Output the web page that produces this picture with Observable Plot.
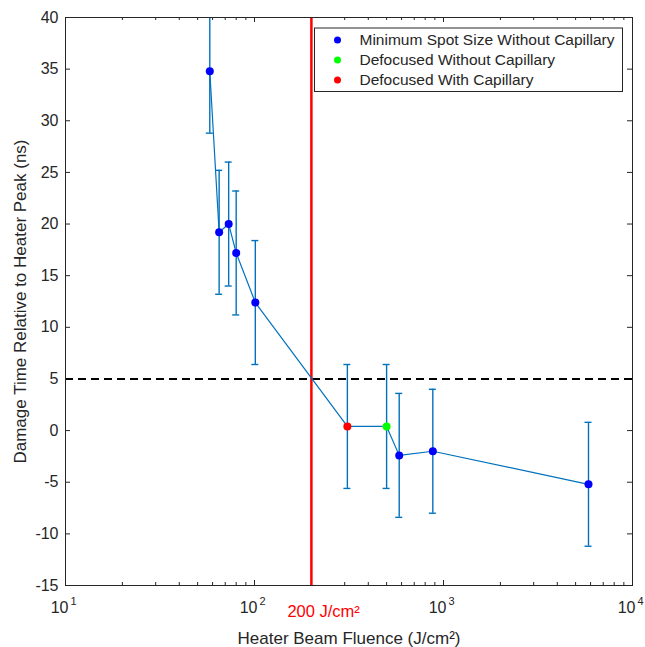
<!DOCTYPE html>
<html>
<head>
<meta charset="utf-8">
<script src="https://cdn.jsdelivr.net/npm/d3@7"></script>
<script src="https://cdn.jsdelivr.net/npm/@observablehq/plot@0.6"></script>
<style>
  html, body { margin: 0; padding: 0; background: #ffffff; }
  #chart svg { display: block; }
</style>
</head>
<body>
<div id="chart"></div>
<script>
// ---- data ----
const fluence    = [58, 65, 73, 80, 101, 310, 500, 583, 878, 5850];
const damageTime = [34.8, 19.2, 20.0, 17.2, 12.4, 0.4, 0.4, -2.4, -2.0, -5.2];
const errorSize  = [6, 6, 6, 6, 6, 6, 6, 6, 6, 6];
const seriesNames = [
  "Minimum Spot Size Without Capillary",
  "Defocused Without Capillary",
  "Defocused With Capillary"
];
const seriesColors = ["#0000ff", "#00ff00", "#ff0000"];
const pointSeries = [0, 0, 0, 0, 0, 2, 1, 0, 0, 0];
const thresholdTime = 5;
const thresholdFluence = 200;
const thresholdLabel = "200 J/cm\u00b2";
const xMajorTicks = [10, 100, 1000, 10000];
const xMinorTicks = [20,30,40,50,60,70,80,90,200,300,400,500,600,700,800,900,2000,3000,4000,5000,6000,7000,8000,9000];
const yTicks = [-15, -10, -5, 0, 5, 10, 15, 20, 25, 30, 35, 40];
const xLabel = "Heater Beam Fluence (J/cm\u00b2)";
const yLabel = "Damage Time Relative to Heater Peak (ns)";

const rows = fluence.map((f, i) => ({
  x: f, y: damageTime[i], lo: damageTime[i] - errorSize[i], hi: damageTime[i] + errorSize[i],
  series: seriesNames[pointSeries[i]]
}));

const W = 645, H = 647, mL = 65, mR = 13, mT = 17, mB = 62;
const pw = W - mL - mR, ph = H - mT - mB;
const ink = "#262626";
const lineBlue = "#0072BD";

const legendMarks = seriesNames.flatMap((name, i) => [
  Plot.dot([name], {frameAnchor: "top-left", dx: 272, dy: 22.5 + 20 * i, r: 3.5, fill: seriesColors[i], stroke: "none"}),
  Plot.text([name], {frameAnchor: "top-left", dx: 294, dy: 22.5 + 20 * i, text: d => d, textAnchor: "start", lineAnchor: "middle", fontSize: 15.5, fill: ink})
]);

const chart = Plot.plot({
  width: W, height: H,
  marginLeft: mL, marginRight: mR, marginTop: mT, marginBottom: mB,
  style: {fontFamily: "'Liberation Sans', Arial, Helvetica, sans-serif", background: "#ffffff", color: ink},
  x: {type: "log", domain: [10, 10000], axis: null},
  y: {domain: [-15, 40], axis: null},
  color: {domain: seriesNames, range: seriesColors},
  marks: [
    // y tick labels
    Plot.axisY({ticks: yTicks, tickSize: 0, tickPadding: 7, fontSize: 16, label: null, tickFormat: d => String(d)}),
    // inward ticks, left & right
    Plot.ruleY(yTicks, {y: d => d, insetRight: pw - 5, stroke: ink}),
    Plot.ruleY(yTicks, {y: d => d, insetLeft: pw - 5, stroke: ink}),
    // inward ticks, bottom & top
    Plot.ruleX(xMajorTicks, {x: d => d, insetTop: ph - 5, stroke: ink}),
    Plot.ruleX(xMajorTicks, {x: d => d, insetBottom: ph - 5, stroke: ink}),
    Plot.ruleX(xMinorTicks, {x: d => d, insetTop: ph - 3, stroke: ink}),
    Plot.ruleX(xMinorTicks, {x: d => d, insetBottom: ph - 3, stroke: ink}),
    // x tick labels 10^n
    Plot.text(xMajorTicks, {x: d => d, frameAnchor: "bottom", text: d => "10", textAnchor: "end", lineAnchor: "bottom", dx: 3, dy: 27, fontSize: 16, fill: ink}),
    Plot.text(xMajorTicks, {x: d => d, frameAnchor: "bottom", text: d => String(Math.round(Math.log10(d))), textAnchor: "start", lineAnchor: "bottom", dx: 5, dy: 19, fontSize: 11, fill: ink}),
    // threshold lines
    Plot.ruleY([thresholdTime], {y: d => d, stroke: "#000000", strokeWidth: 2, strokeDasharray: "8,5"}),
    Plot.ruleX([thresholdFluence], {x: d => d, stroke: "#ff0000", strokeWidth: 2.5}),
    Plot.text([thresholdLabel], {x: thresholdFluence, frameAnchor: "bottom", text: d => d, textAnchor: "start", lineAnchor: "bottom", dx: -24, dy: 31, fontSize: 16.5, fill: "#ff0000"}),
    // error bars
    Plot.ruleX(rows, {x: "x", y1: "lo", y2: "hi", stroke: lineBlue, strokeWidth: 1.4, clip: true}),
    Plot.ruleY(rows, {x1: "x", x2: "x", y: "lo", insetLeft: -3.5, insetRight: -3.5, stroke: lineBlue, strokeWidth: 1.4, clip: true}),
    Plot.ruleY(rows, {x1: "x", x2: "x", y: "hi", insetLeft: -3.5, insetRight: -3.5, stroke: lineBlue, strokeWidth: 1.4, clip: true}),
    // connecting line
    Plot.line(rows, {x: "x", y: "y", stroke: lineBlue, strokeWidth: 1.2}),
    // points
    Plot.dot(rows, {x: "x", y: "y", fill: "series", r: 4, stroke: "none"}),
    // frame
    Plot.frame({stroke: ink, strokeWidth: 1}),
    // legend
    Plot.frame({fill: "#ffffff", stroke: ink, strokeWidth: 1, insetLeft: 249, insetRight: 10, insetTop: 10.5, insetBottom: 494}),
    ...legendMarks,
    // axis titles
    Plot.text([xLabel], {frameAnchor: "bottom", text: d => d, textAnchor: "middle", lineAnchor: "bottom", dy: 58, fontSize: 17, fill: ink}),
    Plot.text([yLabel], {frameAnchor: "left", text: d => d, rotate: -90, textAnchor: "middle", lineAnchor: "middle", dx: -45, fontSize: 17, fill: ink})
  ]
});
document.getElementById("chart").appendChild(chart);
</script>
</body>
</html>
